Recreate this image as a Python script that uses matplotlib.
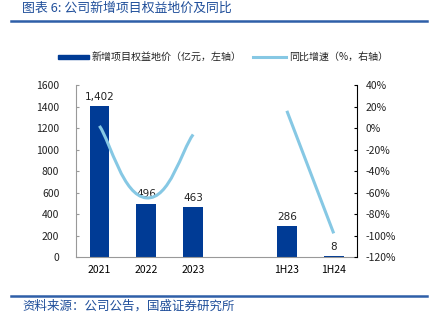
import numpy as np
import matplotlib.pyplot as plt
from matplotlib.path import Path
from matplotlib.patches import PathPatch, Rectangle
from matplotlib.lines import Line2D

plt.rcParams['font.family'] = ['Noto Sans CJK SC', 'DejaVu Sans']

# data
categories = ['2021', '2022', '2023', '', '1H23', '1H24']
land_cost = [1402, 496, 463, np.nan, 286, 8]         # 亿元
land_labels = ['1,402', '496', '463', '', '286', '8']
yoy = [2, -65, -6, np.nan, 16, -98]                   # %

BAR = '#003b95'
LINE = '#86c8e4'
TITLE = '#1f4e9a'

fig = plt.figure(figsize=(4.42, 3.27), dpi=100)
ax = fig.add_axes([0.172, 0.214, 0.636, 0.526])
ax2 = ax.twinx()

x = np.arange(len(categories))
ax.bar(x, land_cost, width=0.42, color=BAR, zorder=2)
for xi, v, lab in zip(x, land_cost, land_labels):
    if lab:
        ax.text(xi, v + 40, lab, ha='center', va='bottom', fontsize=7.5,
                family='DejaVu Sans', color='#222222')

ax.set_xlim(-0.5, len(categories) - 0.5)
ax.set_ylim(0, 1600)
ax.set_yticks(range(0, 1601, 200))
ax.set_xticks(x)
ax.set_xticklabels(categories)


def smooth_path(xs, ys, k=4.0):
    # smoothed line like Excel: cubic bezier segments through the points
    pts = list(zip(xs, ys))
    verts = [pts[0]]
    codes = [Path.MOVETO]
    for i in range(len(pts) - 1):
        p0 = pts[i - 1] if i > 0 else pts[i]
        p1 = pts[i]
        p2 = pts[i + 1]
        p3 = pts[i + 2] if i + 2 < len(pts) else pts[i + 1]
        c1 = (p1[0] + (p2[0] - p0[0]) / k, p1[1] + (p2[1] - p0[1]) / k)
        c2 = (p2[0] - (p3[0] - p1[0]) / k, p2[1] - (p3[1] - p1[1]) / k)
        verts += [c1, c2, p2]
        codes += [Path.CURVE4] * 3
    return Path(verts, codes)


segments = [[0, 1, 2], [4, 5]]
for seg in segments:
    path = smooth_path([x[i] for i in seg], [yoy[i] for i in seg])
    ax2.add_patch(PathPatch(path, facecolor='none', edgecolor=LINE, lw=2.2,
                            capstyle='butt', zorder=3))

ax2.set_ylim(-120, 40)
ax2.set_yticks(range(-120, 41, 20))
ax2.set_yticklabels([f'{t}%' for t in range(-120, 41, 20)])

for a in (ax, ax2):
    a.tick_params(labelsize=7.5, length=2.5, direction='in', width=0.8)
    for s in a.spines.values():
        s.set_visible(False)
ax.tick_params(axis='x', length=0, pad=6)
ax.tick_params(axis='y', colors='#999999', labelcolor='#222222', pad=12)
ax2.tick_params(axis='y', colors='black', labelcolor='#222222', pad=6)
ax.spines['left'].set_visible(True)
ax.spines['left'].set_color('#999999')
ax.spines['bottom'].set_visible(True)
ax.spines['bottom'].set_color('#999999')
ax2.spines['right'].set_visible(True)
ax2.spines['right'].set_color('black')
ax2.spines['right'].set_linewidth(0.8)

# legend
fig.patches.append(Rectangle((58 / 442, 1 - 59 / 327), 31 / 442, 4 / 327,
                             transform=fig.transFigure, color=BAR))
fig.text(92 / 442, 1 - 57 / 327, '新增项目权益地价（亿元，左轴）', fontsize=7.2,
         va='center', color='#222222')
fig.lines.append(Line2D([253 / 442, 286 / 442], [1 - 57 / 327] * 2,
                        transform=fig.transFigure, color=LINE, lw=2.2))
fig.text(289 / 442, 1 - 57 / 327, '同比增速（%，右轴）', fontsize=7.2,
         va='center', color='#222222')

# title and source
fig.text(22 / 442, 1 - 8 / 327, '图表 6: 公司新增项目权益地价及同比', fontsize=9.3,
         va='center', color=TITLE)
fig.lines.append(Line2D([11 / 442, 427 / 442], [1 - 21 / 327] * 2,
                        transform=fig.transFigure, color='#2e5fa8', lw=1.8))
fig.lines.append(Line2D([11 / 442, 427 / 442], [1 - 296 / 327] * 2,
                        transform=fig.transFigure, color='#2e5fa8', lw=1.8))
fig.text(22 / 442, 1 - 306 / 327, '资料来源：公司公告，国盛证券研究所', fontsize=9,
         va='center', color=TITLE)

fig.savefig('out.png', dpi=100)
